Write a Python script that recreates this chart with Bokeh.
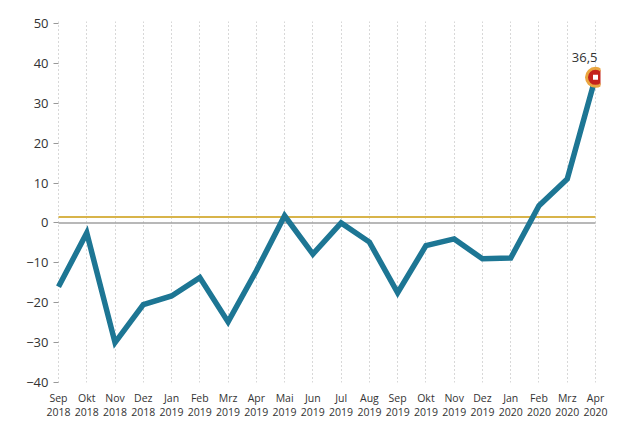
from bokeh.plotting import figure
from bokeh.models import Range1d, FixedTicker
from bokeh.embed import file_html
from bokeh.resources import INLINE
from bokeh.core.properties import value

# ---- data ----
months = ["Sep", "Okt", "Nov", "Dez", "Jan", "Feb", "Mrz", "Apr", "Mai", "Jun",
          "Jul", "Aug", "Sep", "Okt", "Nov", "Dez", "Jan", "Feb", "Mrz", "Apr"]
years = ["2018"] * 4 + ["2019"] * 12 + ["2020"] * 4
values = [-16, -2.5, -30, -20.5, -18.3, -13.7, -24.8, -12, 1.8, -7.8,
          0, -4.8, -17.5, -5.7, -4, -9, -8.8, 4.3, 11, 36.5]
average = 1.5
y_ticks = [-40, -30, -20, -10, 0, 10, 20, 30, 40, 50]

FONT = "Open Sans"
n = len(values)
xs = list(range(n))

p = figure(width=640, height=421, output_backend="svg", toolbar_location=None,
           x_range=Range1d(-0.177, n - 1 + 0.177), y_range=Range1d(-40, 50.5),
           min_border_left=53, min_border_right=40, min_border_top=21,
           min_border_bottom=36)
p.outline_line_color = None
p.background_fill_color = "white"

# grid
p.ygrid.grid_line_color = None
p.xgrid.ticker = FixedTicker(ticks=xs)
p.xgrid.grid_line_color = "#b0b0b0"
p.xgrid.grid_line_dash = "1 3"
p.xgrid.grid_line_width = 1

# y axis
p.yaxis.ticker = FixedTicker(ticks=y_ticks)
p.yaxis.axis_line_color = None
p.yaxis.major_tick_in = 5
p.yaxis.major_tick_out = 0
p.yaxis.major_tick_line_color = "#999999"
p.yaxis.minor_tick_line_color = None
p.yaxis.major_label_standoff = 5
p.yaxis.major_label_text_font = FONT
p.yaxis.major_label_text_font_size = "13px"
p.yaxis.major_label_text_color = "#333333"

# x axis
p.xaxis.ticker = FixedTicker(ticks=xs)
p.xaxis.major_label_overrides = {i: f"{m}\n{y}" for i, (m, y) in enumerate(zip(months, years))}
p.xaxis.axis_line_color = None
p.xaxis.major_tick_line_color = None
p.xaxis.major_tick_in = 0
p.xaxis.major_tick_out = 0
p.xaxis.minor_tick_line_color = None
p.xaxis.major_label_standoff = 8
p.xaxis.major_label_text_font = FONT
p.xaxis.major_label_text_font_size = "10.5px"
p.xaxis.major_label_text_line_height = 1.0
p.xaxis.major_label_text_color = "#333333"

# reference lines
p.line([xs[0], xs[-1]], [0, 0], line_color="#a0a0a0", line_width=1.5)
p.line([xs[0], xs[-1]], [average, average], line_color="#d8b44a", line_width=2)

# data line
p.line(xs, values, line_color="#1d7694", line_width=5.5, line_join="miter")

# end marker
p.scatter([xs[-1]], [values[-1]], size=18, fill_color="#c4231c",
          line_color="#e9a640", line_width=3)
p.scatter([xs[-1]], [values[-1]], marker="square", size=5, fill_color="white",
          line_color=None)
p.text([xs[-1]], [values[-1]], text=[f"{values[-1]}".replace(".", ",")],
       text_align="right", text_baseline="bottom", x_offset=2, y_offset=-15,
       text_font=value(FONT), text_font_size="13px", text_color="#333333")

open("out.html", "w").write(file_html(p, INLINE))
